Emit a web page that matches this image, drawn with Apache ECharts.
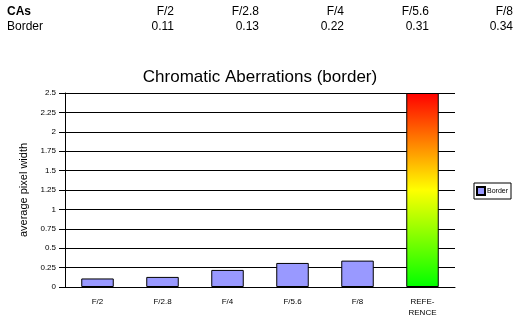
<!DOCTYPE html>
<html>
<head>
<meta charset="utf-8">
<script src="https://cdn.jsdelivr.net/npm/echarts@6/dist/echarts.min.js"></script>
<style>
  html, body { margin: 0; padding: 0; background: #fff; }
  #chart { width: 520px; height: 323px; }
</style>
</head>
<body>
<div id="chart"></div>
<script>
// Aperture settings and measured border chromatic aberration (average pixel width)
const apertures = ['F/2', 'F/2.8', 'F/4', 'F/5.6', 'F/8'];
const borderValues = [0.11, 0.13, 0.22, 0.31, 0.34];
// Reference scale bar shown as the last column
const referenceLabel = 'REFE-\nRENCE';
const referenceValue = 2.5;
const yTicks = ['0', '0.25', '0.5', '0.75', '1', '1.25', '1.5', '1.75', '2', '2.25', '2.5'];

const FONT = 'Arial, "Liberation Sans", sans-serif';
const chart = echarts.init(document.getElementById('chart'));

const categories = apertures.concat([referenceLabel]);
const barData = borderValues.map(v => v).concat([null]);
const refData = apertures.map(() => null).concat([referenceValue]);

// Summary table above the chart
const colRight = [174, 259, 344, 429, 513];
const row1 = 6, row2 = 21;
const tableText = [
  { type: 'text', left: 7, top: row1, style: { text: 'CAs', font: 'bold 12px ' + FONT, fill: '#000' } },
  { type: 'text', left: 7, top: row2, style: { text: 'Border', font: '12px ' + FONT, fill: '#000' } }
];
apertures.forEach((a, i) => {
  tableText.push({ type: 'text', x: colRight[i], y: row1, style: { text: a, font: '12px ' + FONT, fill: '#000', textAlign: 'right' } });
  tableText.push({ type: 'text', x: colRight[i], y: row2, style: { text: borderValues[i].toFixed(2), font: '12px ' + FONT, fill: '#000', textAlign: 'right' } });
});

chart.setOption({
  backgroundColor: '#fff',
  animation: false,
  title: {
    text: 'Chromatic Aberrations (border)',
    left: 'center',
    top: 64,
    textStyle: { fontFamily: FONT, fontSize: 17, fontWeight: 'normal', color: '#000' }
  },
  legend: {
    data: ['Border'],
    right: 9,
    top: 183,
    orient: 'vertical',
    borderColor: '#000',
    borderWidth: 1,
    borderRadius: 0,
    padding: [3, 3, 3, 2],
    itemWidth: 8,
    itemHeight: 8,
    itemGap: 2,
    icon: 'rect',
    textStyle: { fontFamily: FONT, fontSize: 7, color: '#000', padding: [0, 0, 0, -3] }
  },
  grid: { left: 65, right: 65, top: 93, bottom: 36 },
  xAxis: {
    type: 'category',
    data: categories,
    axisLine: { lineStyle: { color: '#000', width: 1 } },
    axisTick: { length: 5, lineStyle: { color: '#000' } },
    axisLabel: { fontFamily: FONT, fontSize: 8, color: '#000', margin: 9, lineHeight: 11, interval: 0 }
  },
  yAxis: {
    type: 'value',
    min: 0,
    max: 2.5,
    interval: 0.25,
    name: 'average pixel width',
    nameLocation: 'middle',
    nameRotate: 90,
    nameGap: 36,
    nameTextStyle: { fontFamily: FONT, fontSize: 11, color: '#000' },
    axisLine: { show: true, lineStyle: { color: '#000', width: 1 } },
    axisTick: { show: true, length: 6, lineStyle: { color: '#000' } },
    splitLine: { lineStyle: { color: '#000', width: 1 } },
    axisLabel: {
      fontFamily: FONT, fontSize: 8, color: '#000', margin: 9,
      formatter: v => yTicks[Math.round(v / 0.25)]
    }
  },
  series: [
    {
      name: 'Border',
      type: 'bar',
      data: barData,
      barWidth: '50%',
      barGap: '-100%',
      itemStyle: { color: '#9999FF', borderColor: '#000', borderWidth: 1 }
    },
    {
      name: 'Reference',
      type: 'bar',
      data: refData,
      barWidth: '50%',
      barGap: '-100%',
      itemStyle: {
        borderColor: '#000',
        borderWidth: 1,
        color: new echarts.graphic.LinearGradient(0, 0, 0, 1, [
          { offset: 0, color: '#FF0000' },
          { offset: 0.5, color: '#FFFF00' },
          { offset: 1, color: '#00FF00' }
        ])
      }
    }
  ],
  graphic: tableText
});
</script>
</body>
</html>
